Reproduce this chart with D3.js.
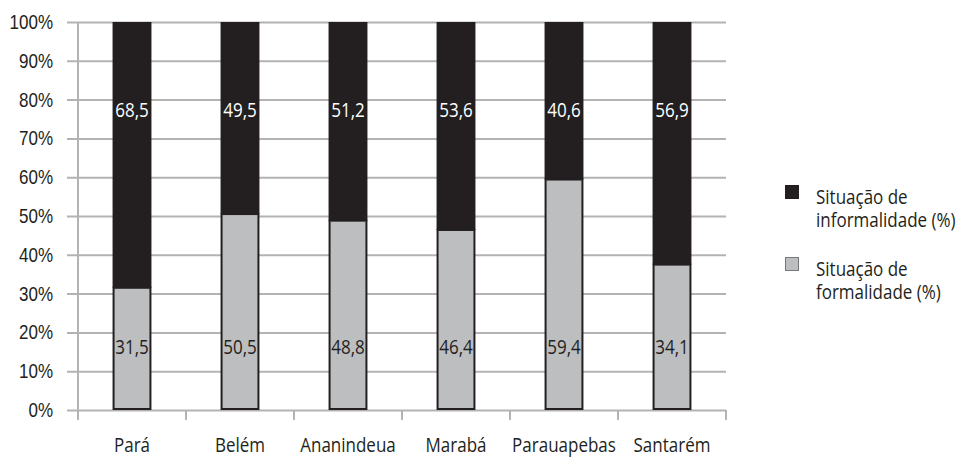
<!DOCTYPE html>
<html>
<head>
<meta charset="utf-8">
<script src="https://cdn.jsdelivr.net/npm/d3@7"></script>
<style>
  html, body { margin: 0; padding: 0; background: #fff; }
  svg { display: block; font-family: "Open Sans", "Noto Sans", "Liberation Sans", sans-serif; }
</style>
</head>
<body>
<svg id="chart" width="956" height="458"></svg>
<script>
// Municipalities and share of workers in each employment situation (%)
const categories = ["Pará", "Belém", "Ananindeua", "Marabá", "Parauapebas", "Santarém"];
const formalidade = [31.5, 50.5, 48.8, 46.4, 59.4, 34.1];
const informalidade = [68.5, 49.5, 51.2, 53.6, 40.6, 56.9];
const yTicks = [0, 10, 20, 30, 40, 50, 60, 70, 80, 90, 100];
const seriesNames = ["Situação de informalidade (%)", "Situação de formalidade (%)"];

const fmt = v => d3.format(".1f")(v).replace(".", ",");

// Narrow the lettering horizontally to get a condensed typeface look
const SX = 0.85;
function condense(sel) {
  sel.each(function () {
    const el = d3.select(this);
    const x = +(el.attr("x") || 0);
    el.attr("x", x / SX).attr("transform", `scale(${SX},1)`);
    el.selectAll("tspan").each(function () {
      const ts = d3.select(this);
      if (ts.attr("x") != null) ts.attr("x", +ts.attr("x") / SX);
    });
  });
}

const svg = d3.select("#chart");
const margin = { left: 78, right: 230, top: 22, bottom: 48 };
const W = 956, H = 458;
const fs = 20;

const x = d3.scaleBand().domain(categories).range([margin.left, W - margin.right]).paddingInner(0.64).paddingOuter(0.32);
const y = d3.scaleLinear().domain([0, 100]).range([H - margin.bottom, margin.top]);

const dark = "#231f20", gray = "#bcbec0", grid = "#b3b3b3";

// Horizontal gridlines and y labels
const yAxis = svg.append("g").attr("transform", `translate(${margin.left},0)`)
  .call(d3.axisLeft(y).tickValues(yTicks).tickSize(-(W - margin.right - margin.left)).tickSizeOuter(0).tickPadding(25).tickFormat(d => d + "%"));
yAxis.select(".domain").remove();
yAxis.selectAll(".tick line").attr("stroke", grid).attr("stroke-width", 2).attr("x1", -11);
yAxis.selectAll(".tick text").attr("fill", dark).attr("font-size", fs).attr("font-family", null).call(condense);

// Vertical axis line
svg.append("line").attr("x1", margin.left).attr("x2", margin.left)
  .attr("y1", y(100)).attr("y2", y(0) + 10).attr("stroke", grid).attr("stroke-width", 2);

// Category axis: ticks at band boundaries
const xAxis = svg.append("g").attr("transform", `translate(0,${y(0)})`);
const bounds = categories.map((c, i) => margin.left + i * x.step());
bounds.push(W - margin.right);
xAxis.selectAll("line.tk").data(bounds).join("line").attr("class", "tk")
  .attr("x1", d => d).attr("x2", d => d).attr("y1", 0).attr("y2", 10)
  .attr("stroke", grid).attr("stroke-width", 2);
xAxis.selectAll("text").data(categories).join("text")
  .attr("x", d => x(d) + x.bandwidth() / 2).attr("y", 42)
  .attr("text-anchor", "middle").attr("font-size", fs).attr("fill", dark).text(d => d)
  .call(condense);

// 100% stacked bars: each column is scaled to its own total
const bars = svg.append("g");
categories.forEach((c, i) => {
  const f = formalidade[i], inf = informalidade[i];
  const total = f + inf;
  const pf = f / total * 100;
  bars.append("rect").attr("x", x(c)).attr("width", x.bandwidth())
    .attr("y", y(100)).attr("height", y(pf) - y(100)).attr("fill", dark);
  bars.append("rect").attr("x", x(c) + 1).attr("width", x.bandwidth() - 2)
    .attr("y", y(pf)).attr("height", y(0) - y(pf) - 1)
    .attr("fill", gray).attr("stroke", dark).attr("stroke-width", 2);
  bars.append("text").attr("x", x(c) + x.bandwidth() / 2).attr("y", y(77.3)).attr("dy", "0.35em")
    .attr("text-anchor", "middle").attr("font-size", fs).attr("fill", "#fff").text(fmt(inf))
    .call(condense);
  bars.append("text").attr("x", x(c) + x.bandwidth() / 2).attr("y", y(16.2)).attr("dy", "0.35em")
    .attr("text-anchor", "middle").attr("font-size", fs).attr("fill", dark).text(fmt(f))
    .call(condense);
});

// Legend
const legend = svg.append("g").attr("transform", "translate(785,185)");
const legendFill = [dark, gray];
seriesNames.forEach((name, i) => {
  const g = legend.append("g").attr("transform", `translate(0,${i * 72})`);
  g.append("rect").attr("x", 0.5).attr("y", 0.5).attr("width", 13).attr("height", 13)
    .attr("fill", legendFill[i]).attr("stroke", i ? "#777" : dark).attr("stroke-width", 1);
  const words = name.split(" ");
  const t = g.append("text").attr("font-size", fs).attr("fill", dark);
  t.append("tspan").attr("x", 31).attr("y", 19).text(words.slice(0, 2).join(" "));
  t.append("tspan").attr("x", 31).attr("y", 42).text(words.slice(2).join(" "));
  t.call(condense);
});
</script>
</body>
</html>
